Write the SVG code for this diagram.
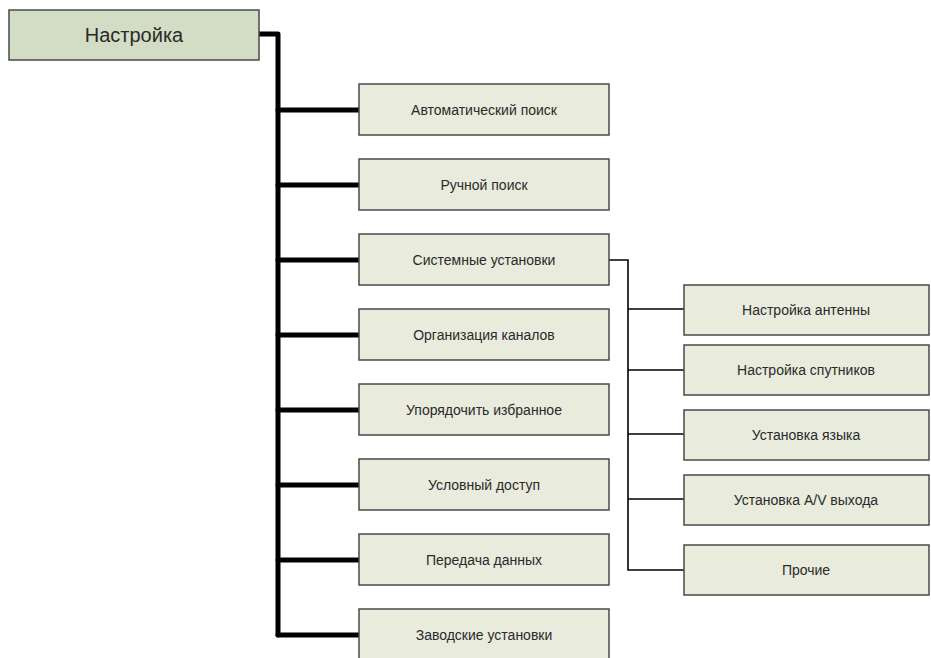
<svg xmlns="http://www.w3.org/2000/svg" width="931" height="658" viewBox="0 0 931 658">
<style>
.box{fill:#e9ebdd;stroke:#4a4a4a;stroke-width:1.5}
.root{fill:#d3dcc4;stroke:#4a4a4a;stroke-width:1.5}
text{font-family:"Liberation Sans",Arial,sans-serif;font-size:14px;fill:#2a2a2a;text-anchor:middle}
.rt{font-size:20px}
.thick{fill:none;stroke:#000;stroke-width:5;stroke-linecap:round;stroke-linejoin:round}
.thin{fill:none;stroke:#000;stroke-width:1.6}
</style>
<rect width="931" height="658" fill="#fff"/>
<g id="connectors">
<path class="thick" d="M259 34 H278 V635"/>
<path class="thick" d="M278 110 H359 M278 185 H359 M278 260 H359 M278 335 H359 M278 410 H359 M278 485 H359 M278 560 H359 M278 635 H359"/>
<path class="thin" d="M609 260 H628 V570 H684 M628 309 H684 M628 370 H684 M628 434 H684 M628 499 H684"/>
</g>
<g id="n-root"><rect class="root" x="9" y="10" width="250" height="50"/><text class="rt" x="134" y="42">Настройка</text></g>
<g id="n1"><rect class="box" x="359" y="84" width="250" height="51"/><text x="484" y="115">Автоматический поиск</text></g>
<g id="n2"><rect class="box" x="359" y="159" width="250" height="51"/><text x="484" y="190">Ручной поиск</text></g>
<g id="n3"><rect class="box" x="359" y="234" width="250" height="51"/><text x="484" y="265">Системные установки</text></g>
<g id="n4"><rect class="box" x="359" y="309" width="250" height="51"/><text x="484" y="340">Организация каналов</text></g>
<g id="n5"><rect class="box" x="359" y="384" width="250" height="51"/><text x="484" y="415">Упорядочить избранное</text></g>
<g id="n6"><rect class="box" x="359" y="459" width="250" height="51"/><text x="484" y="490">Условный доступ</text></g>
<g id="n7"><rect class="box" x="359" y="534" width="250" height="51"/><text x="484" y="565">Передача данных</text></g>
<g id="n8"><rect class="box" x="359" y="609" width="250" height="51"/><text x="484" y="640">Заводские установки</text></g>
<g id="s1"><rect class="box" x="684" y="285" width="245" height="50"/><text x="806" y="315">Настройка антенны</text></g>
<g id="s2"><rect class="box" x="684" y="345" width="245" height="50"/><text x="806" y="375">Настройка спутников</text></g>
<g id="s3"><rect class="box" x="684" y="410" width="245" height="50"/><text x="806" y="440">Установка языка</text></g>
<g id="s4"><rect class="box" x="684" y="475" width="245" height="50"/><text x="806" y="505">Установка A/V выхода</text></g>
<g id="s5"><rect class="box" x="684" y="545" width="245" height="50"/><text x="806" y="575">Прочие</text></g>
</svg>
